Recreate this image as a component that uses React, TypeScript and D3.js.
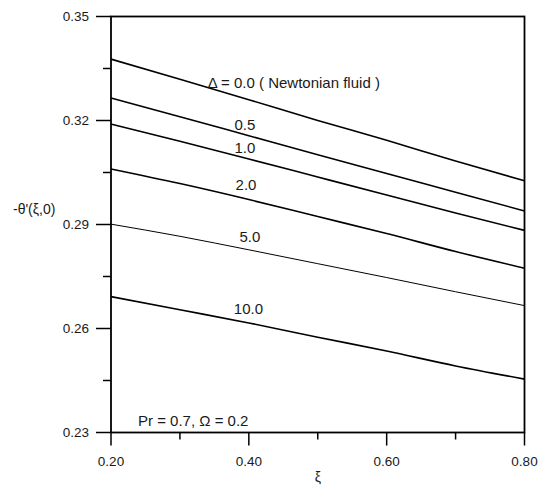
import React from "react";
import * as d3 from "d3";

const xi = [0.2, 0.3, 0.4, 0.5, 0.6, 0.7, 0.8];
const delta0 = [0.3377, 0.3319, 0.326, 0.32, 0.3143, 0.3083, 0.3026];
const delta05 = [0.3265, 0.3211, 0.3156, 0.3101, 0.3047, 0.2993, 0.2939];
const delta1 = [0.319, 0.314, 0.3089, 0.3037, 0.2985, 0.2933, 0.2883];
const delta2 = [0.306, 0.3018, 0.2972, 0.2923, 0.2874, 0.2822, 0.2774];
const delta5 = [0.2901, 0.2866, 0.2827, 0.2787, 0.2747, 0.2706, 0.2666];
const delta10 = [0.2692, 0.2654, 0.2616, 0.2575, 0.2535, 0.2492, 0.2454];

const seriesLabels = ["Δ = 0.0 ( Newtonian fluid )", "0.5", "1.0", "2.0", "5.0", "10.0"];
const seriesValues = [delta0, delta05, delta1, delta2, delta5, delta10];
const labelAnchors = [
  { xv: 0.3403, yv: 0.3294 },
  { xv: 0.3792, yv: 0.3172 },
  { xv: 0.3792, yv: 0.3107 },
  { xv: 0.3808, yv: 0.3000 },
  { xv: 0.3865, yv: 0.2850 },
  { xv: 0.3782, yv: 0.2642 },
];

const xMajor = [0.2, 0.4, 0.6, 0.8];
const xMinor = [0.3, 0.5, 0.7];
const yMajor = [0.23, 0.26, 0.29, 0.32, 0.35];
const yMinor = [0.245, 0.275, 0.305, 0.335];

export default function App() {
  const W = 549, H = 491;
  const left = 111, right = 524.5, top = 16.5, bottom = 432.5;
  const x = d3.scaleLinear().domain([0.2, 0.8]).range([left, right]);
  const y = d3.scaleLinear().domain([0.23, 0.35]).range([bottom, top]);
  const line = d3
    .line<number>()
    .x((_, i) => x(xi[i]))
    .y((d) => y(d))
    .curve(d3.curveMonotoneX);
  const font = "Arial, 'Liberation Sans', Helvetica, sans-serif";
  const txt = "#1a1a1a";

  return (
    <svg
      width={W}
      height={H}
      style={{ position: "absolute", left: 0, top: 0, background: "#fff" }}
      fontFamily={font}
    >
      {seriesValues.map((vals, i) => (
        <path
          key={i}
          d={line(vals) || ""}
          fill="none"
          stroke="#000"
          strokeWidth={i === 4 ? 1 : 1.6}
        />
      ))}
      {seriesLabels.map((lab, i) => (
        <text
          key={lab}
          x={x(labelAnchors[i].xv)}
          y={y(labelAnchors[i].yv)}
          fontSize={15}
          fill={txt}
        >
          {lab}
        </text>
      ))}
      <rect x={left} y={top} width={right - left} height={bottom - top} fill="none" stroke="#000" strokeWidth={1.8} />
      {xMajor.map((v) => (
        <g key={"xM" + v}>
          <line x1={x(v)} x2={x(v)} y1={bottom} y2={bottom + 13} stroke="#000" strokeWidth={1.5} />
          <text x={x(v)} y={466} textAnchor="middle" fontSize={13.5} fill={txt}>
            {v.toFixed(2)}
          </text>
        </g>
      ))}
      {xMinor.map((v) => (
        <line key={"xm" + v} x1={x(v)} x2={x(v)} y1={bottom} y2={bottom + 7} stroke="#000" strokeWidth={1.5} />
      ))}
      {yMajor.map((v) => (
        <g key={"yM" + v}>
          <line x1={left - 15} x2={left} y1={y(v)} y2={y(v)} stroke="#000" strokeWidth={1.5} />
          <text x={89} y={y(v) + 4.8} textAnchor="end" fontSize={13.5} fill={txt}>
            {v.toFixed(2)}
          </text>
        </g>
      ))}
      {yMinor.map((v) => (
        <line key={"ym" + v} x1={left - 8} x2={left} y1={y(v)} y2={y(v)} stroke="#000" strokeWidth={1.5} />
      ))}
      <text x={13} y={214} fontSize={14} fill={txt}>
        -θ'(ξ,0)
      </text>
      <text x={318} y={482} textAnchor="middle" fontSize={14} fill={txt}>
        ξ
      </text>
      <text x={138} y={425.5} fontSize={15} fill={txt}>
        Pr = 0.7, Ω = 0.2
      </text>
    </svg>
  );
}
